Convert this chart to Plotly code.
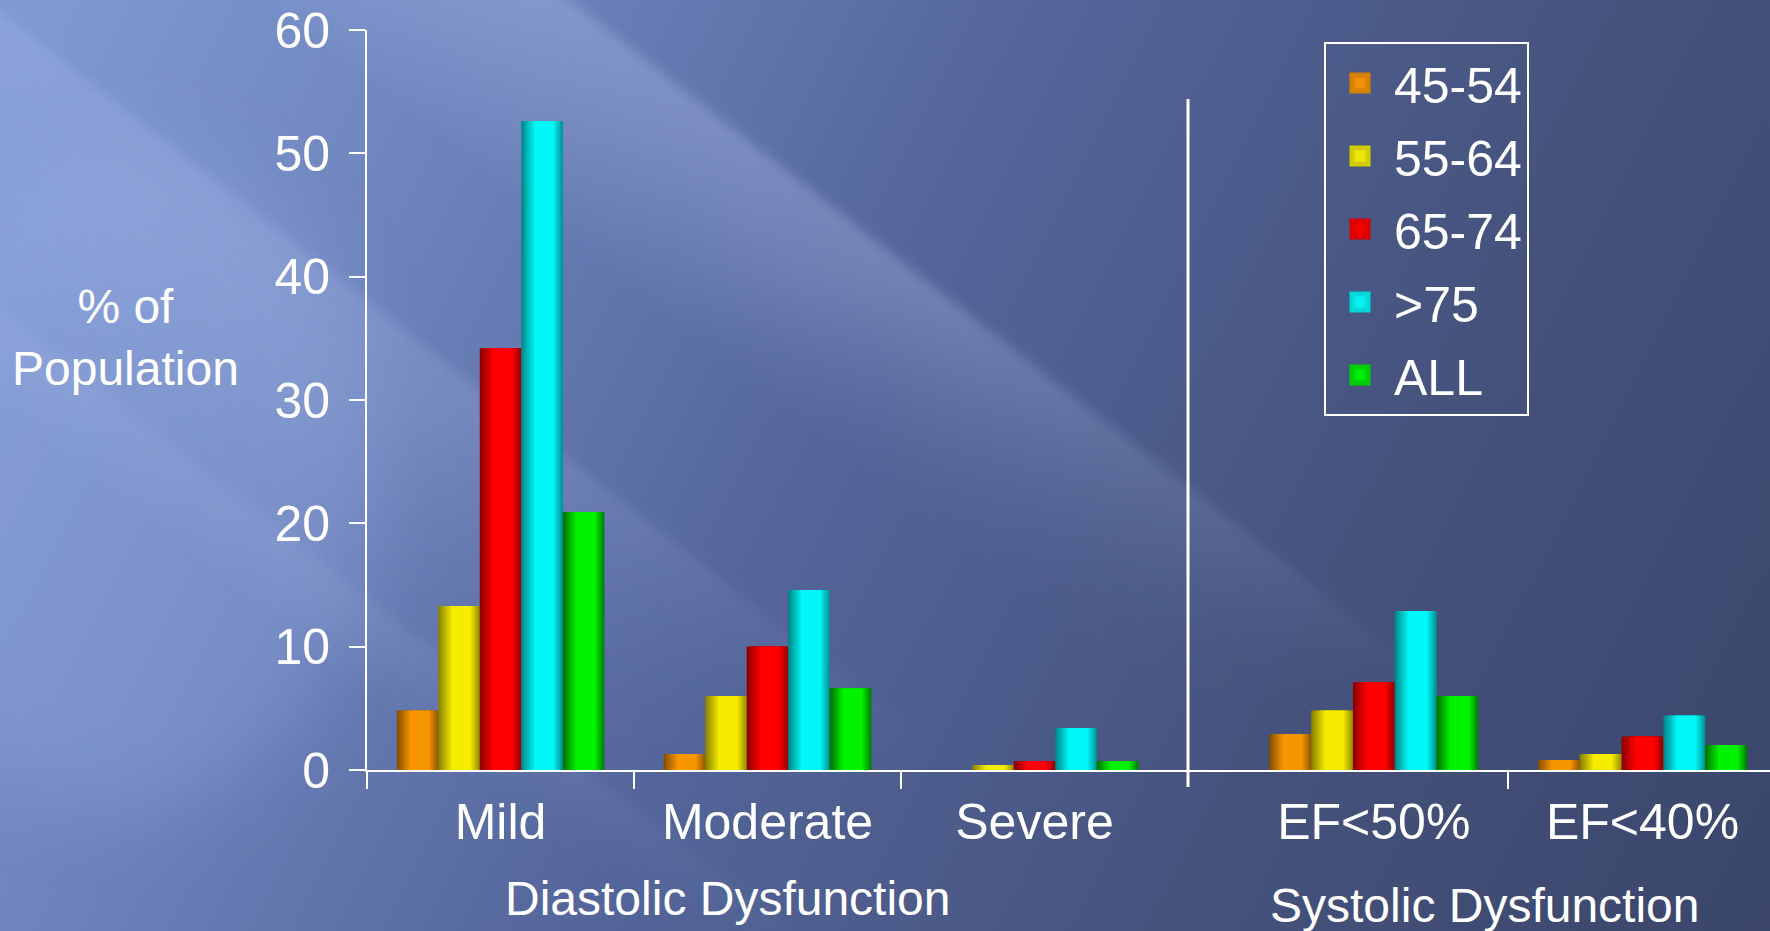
import base64
import plotly.graph_objects as go

# ---------------- data ----------------
age_groups = ['45-54', '55-64', '65-74', '>75', 'ALL']
diastolic_categories = ['Mild', 'Moderate', 'Severe']
systolic_categories = ['EF<50%', 'EF<40%']

diastolic_45_54 = [4.8, 1.3, 0.0]
diastolic_55_64 = [13.3, 6.0, 0.4]
diastolic_65_74 = [34.2, 10.0, 0.7]
diastolic_over_75 = [52.6, 14.6, 3.4]
diastolic_all = [20.9, 6.6, 0.7]

systolic_45_54 = [2.9, 0.8]
systolic_55_64 = [4.8, 1.3]
systolic_65_74 = [7.1, 2.7]
systolic_over_75 = [12.9, 4.4]
systolic_all = [6.0, 2.0]

y_tick_values = [0, 10, 20, 30, 40, 50, 60]

diastolic_series = [diastolic_45_54, diastolic_55_64, diastolic_65_74, diastolic_over_75, diastolic_all]
systolic_series = [systolic_45_54, systolic_55_64, systolic_65_74, systolic_over_75, systolic_all]

# ---------------- style ----------------
W, H = 1770, 931
ML, MR, MT, MB = 367, 0, 30, 161
PW, PH = W - ML - MR, H - MT - MB
FONT = 'Liberation Sans, Arial, sans-serif'

shades = {  # (dark edge, bright centre)
    '45-54': ((0x8a, 0x50, 0x00), (0xf8, 0x96, 0x00)),
    '55-64': ((0x8c, 0x84, 0x00), (0xf5, 0xec, 0x00)),
    '65-74': ((0x8c, 0x00, 0x00), (0xff, 0x00, 0x00)),
    '>75':   ((0x00, 0x8a, 0x8c), (0x00, 0xf8, 0xf8)),
    'ALL':   ((0x00, 0x76, 0x00), (0x00, 0xf4, 0x00)),
}


def lerp(c0, c1, t):
    return 'rgb(%d,%d,%d)' % tuple(round(a + (b - a) * t) for a, b in zip(c0, c1))


K = 10
levels = [k / (K - 1) for k in range(K)]
group_frac = 0.777
bar_w = group_frac / len(age_groups)

fig = go.Figure()
for xaxis, cats, series in [('x', diastolic_categories, diastolic_series),
                            ('x2', systolic_categories, systolic_series)]:
    for i, (name, vals) in enumerate(zip(age_groups, series)):
        dark, bright = shades[name]
        for k, t in enumerate(levels):
            a = 0.32 * t
            b = 1.0 if t <= 0.12 else 1 - 0.22 * (t - 0.12) / 0.88
            fig.add_trace(go.Bar(
                x=cats, y=vals, xaxis=xaxis, yaxis='y',
                offset=-group_frac / 2 + (i + a) * bar_w,
                width=(b - a) * bar_w,
                marker=dict(color=lerp(dark, bright, t), line=dict(width=0)),
                name=name, legendgroup=name, showlegend=False,
                hovertemplate='%{x}: %{y}%<extra>' + name + '</extra>',
            ))

# legend entries (larger swatches than the bar legend symbol allows)
for name in age_groups:
    dark, bright = shades[name]
    fig.add_trace(go.Scatter(
        x=[None], y=[None], mode='markers', name=name, legendgroup=name,
        marker=dict(symbol='square', size=16, color=lerp(dark, bright, 0.95),
                    line=dict(width=5, color=lerp(dark, bright, 0.7))),
        hoverinfo='skip',
    ))

split = (1188 - ML) / PW

axis_common = dict(
    showline=True, linecolor='white', linewidth=2,
    showgrid=False, zeroline=False,
)
minor_ticks = dict(ticks='outside', ticklen=17, tickwidth=2, tickcolor='white')

fig.update_layout(
    width=W, height=H, autosize=False,
    margin=dict(l=ML, r=MR, t=MT, b=MB, pad=0),
    barmode='overlay',
    paper_bgcolor='#55689a',
    plot_bgcolor='rgba(0,0,0,0)',
    font=dict(family=FONT, color='white'),
    xaxis=dict(
        **axis_common, domain=[0, split], anchor='y',
        type='category', range=[-0.5, 2.575],
        tickfont=dict(family=FONT, size=50, color='white'),
        ticks='', ticklabelstandoff=7,
        minor=dict(tickmode='array', tickvals=[-0.5, 0.5, 1.5], **minor_ticks),
    ),
    xaxis2=dict(
        **axis_common, domain=[split, 1], anchor='y',
        type='category', range=[-0.6915, 1.4745],
        tickfont=dict(family=FONT, size=50, color='white'),
        ticks='', ticklabelstandoff=7,
        minor=dict(tickmode='array', tickvals=[0.5], **minor_ticks),
    ),
    yaxis=dict(
        **axis_common, range=[0, 60], tickmode='array', tickvals=y_tick_values,
        tickfont=dict(family=FONT, size=50, color='white'),
        ticks='outside', ticklen=16, tickwidth=2, tickcolor='white',
        ticklabelstandoff=9,
    ),
    legend=dict(
        x=(1324 - ML) / PW, y=(771 - 43) / PH, xanchor='left', yanchor='top',
        bgcolor='rgba(0,0,0,0)', bordercolor='white', borderwidth=2,
        font=dict(family=FONT, size=50, color='white'),
        traceorder='grouped', tracegroupgap=5, itemwidth=58,
    ),
    showlegend=True,
)

# separator between the diastolic and systolic panels
fig.add_shape(type='line', xref='x2 domain', yref='paper', x0=0, x1=0,
              y0=-17 / PH, y1=54.4 / 60, line=dict(color='white', width=3))

ann_font = dict(family=FONT, size=48, color='white')
fig.add_annotation(text='% of<br>Population', xref='paper', yref='paper',
                   x=(125 - ML) / PW, y=(771 - 338) / PH, showarrow=False,
                   xanchor='center', yanchor='middle', font=ann_font)
fig.add_annotation(text='Diastolic Dysfunction', xref='paper', yref='paper',
                   x=(728 - ML) / PW, y=(771 - 899) / PH, showarrow=False,
                   xanchor='center', yanchor='middle', font=ann_font)
fig.add_annotation(text='Systolic Dysfunction', xref='paper', yref='paper',
                   x=(1485 - ML) / PW, y=(771 - 907) / PH, showarrow=False,
                   xanchor='center', yanchor='middle', font=ann_font)


# ---------------- background ----------------
def ray(x_right_top, width, y_end, fade0, fade1, opacity, gid):
    """light band along slope 0.768: sharp right edge, soft left edge, fading out along its length"""
    s = 0.768
    xr0, xl0 = x_right_top, x_right_top - width
    xr1, xl1 = xr0 + y_end / s, xl0 + y_end / s
    px, py = xl0 + 300 / s, 300.0
    nx, ny = 0.609, -0.793
    d = width * 0.609
    defs = (f"<linearGradient id='{gid}g' gradientUnits='userSpaceOnUse' "
            f"x1='{px:.1f}' y1='{py:.1f}' x2='{px + nx * d:.1f}' y2='{py + ny * d:.1f}'>"
            f"<stop offset='0' stop-color='#c6d4ff' stop-opacity='0'/>"
            f"<stop offset='0.75' stop-color='#c6d4ff' stop-opacity='{opacity * 0.8:.3f}'/>"
            f"<stop offset='1' stop-color='#c6d4ff' stop-opacity='{opacity:.3f}'/>"
            f"</linearGradient>"
            f"<linearGradient id='{gid}f' gradientUnits='userSpaceOnUse' x1='0' y1='{fade0}' x2='0' y2='{fade1}'>"
            f"<stop offset='0' stop-color='white'/><stop offset='1' stop-color='black'/>"
            f"</linearGradient>"
            f"<mask id='{gid}m' maskUnits='userSpaceOnUse' x='-500' y='-100' width='{W + 1000}' height='{H + 200}'>"
            f"<rect x='-500' y='-100' width='{W + 1000}' height='{H + 200}' fill='url(#{gid}f)'/></mask>")
    poly = (f"<polygon points='{xl0:.0f},-20 {xr0:.0f},-20 {xr1:.0f},{y_end:.0f} "
            f"{xl1:.0f},{y_end:.0f}' fill='url(#{gid}g)' mask='url(#{gid}m)'/>")
    return defs, poly


rays = [ray(545, 300, 760, 280, 700, 0.26, 'r1'),
        ray(-40, 380, 800, 420, 760, 0.16, 'r2'),
        ray(-420, 120, 960, 700, 1000, 0.10, 'r3')]
bg_svg = f"""<svg xmlns='http://www.w3.org/2000/svg' width='{W}' height='{H}' viewBox='0 0 {W} {H}'>
<defs>
<linearGradient id='base' gradientUnits='userSpaceOnUse' x1='0' y1='100' x2='1770' y2='1000'>
<stop offset='0' stop-color='#8099d3'/>
<stop offset='0.22' stop-color='#6c82bb'/>
<stop offset='0.45' stop-color='#53659a'/>
<stop offset='0.72' stop-color='#45527c'/>
<stop offset='1' stop-color='#3a4569'/>
</linearGradient>
{''.join(g for g, _ in rays)}
<filter id='soft' x='-20%' y='-20%' width='140%' height='140%'><feGaussianBlur stdDeviation='6'/></filter>
<filter id='blur' x='-50%' y='-50%' width='200%' height='200%'><feGaussianBlur stdDeviation='40'/></filter>
</defs>
<rect width='{W}' height='{H}' fill='url(#base)'/>
<g filter='url(#blur)'>
<ellipse cx='120' cy='480' rx='260' ry='330' fill='#a9bdf5' fill-opacity='0.22'/>
</g>
<g filter='url(#soft)'>
{''.join(p for _, p in rays)}
</g>
</svg>"""
bg_uri = 'data:image/svg+xml;base64,' + base64.b64encode(bg_svg.encode()).decode()
fig.add_layout_image(dict(
    source=bg_uri, xref='paper', yref='paper',
    x=-ML / PW, y=1 + MT / PH, sizex=W / PW, sizey=H / PH,
    xanchor='left', yanchor='top', sizing='stretch', layer='below',
))

fig.write_html('out.html', config={'displayModeBar': False})
